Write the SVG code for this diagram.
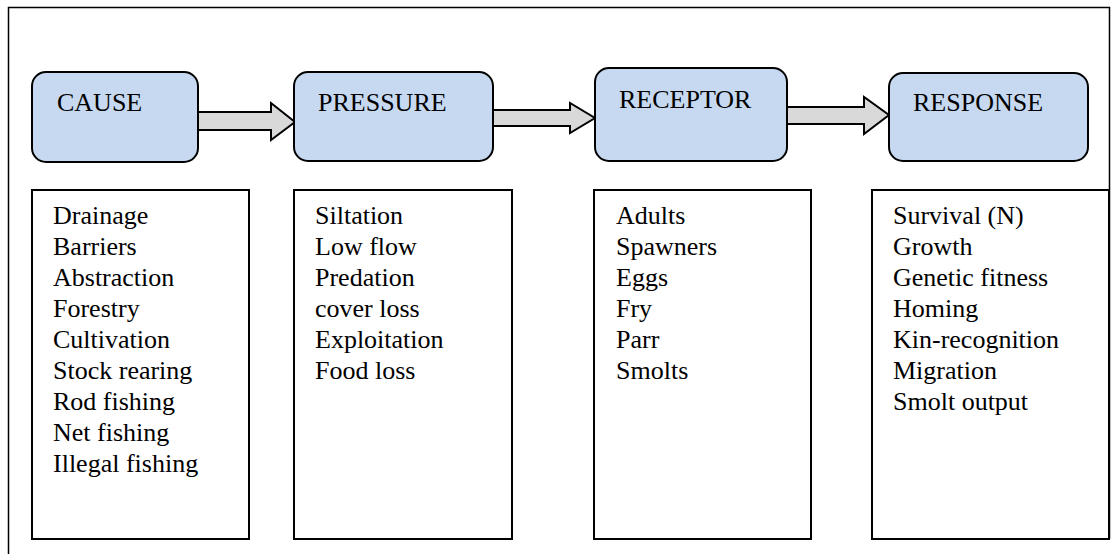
<svg xmlns="http://www.w3.org/2000/svg" width="1119" height="554" viewBox="0 0 1119 554">
<style>
.frame{fill:none;stroke:#000;stroke-width:1.5}
.head{fill:#c6d9f0;stroke:#000;stroke-width:2}
.list{fill:#fff;stroke:#000;stroke-width:2}
.arrow{fill:#d9d9d9;stroke:#000;stroke-width:2;stroke-linejoin:miter}
text{font-family:"Liberation Serif","Times New Roman",serif;font-size:26px;fill:#000}
</style>
<rect width="1119" height="554" fill="#fff"/>
<path class="frame" d="M8.5 560 V7.5 H1109.5 V539"/>
<g id="connectors">
<path class="arrow" d="M198 112 H271 V103 L295 122 L271 140 V130 H198 Z"/>
<path class="arrow" d="M493 110 H570 V103 L595 118 L570 133 V126 H493 Z"/>
<path class="arrow" d="M787 107 H864 V97 L889 115 L864 134 V124 H787 Z"/>
</g>
<g id="cause">
<rect class="head" x="32" y="72" width="166" height="90" rx="14"/>
<text x="57" y="111">CAUSE</text>
</g>
<g id="pressure">
<rect class="head" x="294" y="72" width="199" height="89" rx="14"/>
<text x="318" y="111">PRESSURE</text>
</g>
<g id="receptor">
<rect class="head" x="595" y="68" width="192" height="93" rx="14"/>
<text x="619" y="108">RECEPTOR</text>
</g>
<g id="response">
<rect class="head" x="889" y="73" width="199" height="88" rx="14"/>
<text x="913" y="111">RESPONSE</text>
</g>
<g id="cause-list">
<rect class="list" x="32" y="190" width="217" height="349"/>
<text x="53" y="224">Drainage</text>
<text x="53" y="255">Barriers</text>
<text x="53" y="286">Abstraction</text>
<text x="53" y="317">Forestry</text>
<text x="53" y="348">Cultivation</text>
<text x="53" y="379">Stock rearing</text>
<text x="53" y="410">Rod fishing</text>
<text x="53" y="441">Net fishing</text>
<text x="53" y="472">Illegal fishing</text>
</g>
<g id="pressure-list">
<rect class="list" x="294" y="190" width="218" height="349"/>
<text x="315" y="224">Siltation</text>
<text x="315" y="255">Low flow</text>
<text x="315" y="286">Predation</text>
<text x="315" y="317">cover loss</text>
<text x="315" y="348">Exploitation</text>
<text x="315" y="379">Food loss</text>
</g>
<g id="receptor-list">
<rect class="list" x="594" y="190" width="217" height="349"/>
<text x="616" y="224">Adults</text>
<text x="616" y="255">Spawners</text>
<text x="616" y="286">Eggs</text>
<text x="616" y="317">Fry</text>
<text x="616" y="348">Parr</text>
<text x="616" y="379">Smolts</text>
</g>
<g id="response-list">
<rect class="list" x="872" y="190" width="237" height="349"/>
<text x="893" y="224">Survival (N)</text>
<text x="893" y="255">Growth</text>
<text x="893" y="286">Genetic fitness</text>
<text x="893" y="317">Homing</text>
<text x="893" y="348">Kin-recognition</text>
<text x="893" y="379">Migration</text>
<text x="893" y="410">Smolt output</text>
</g>
</svg>
